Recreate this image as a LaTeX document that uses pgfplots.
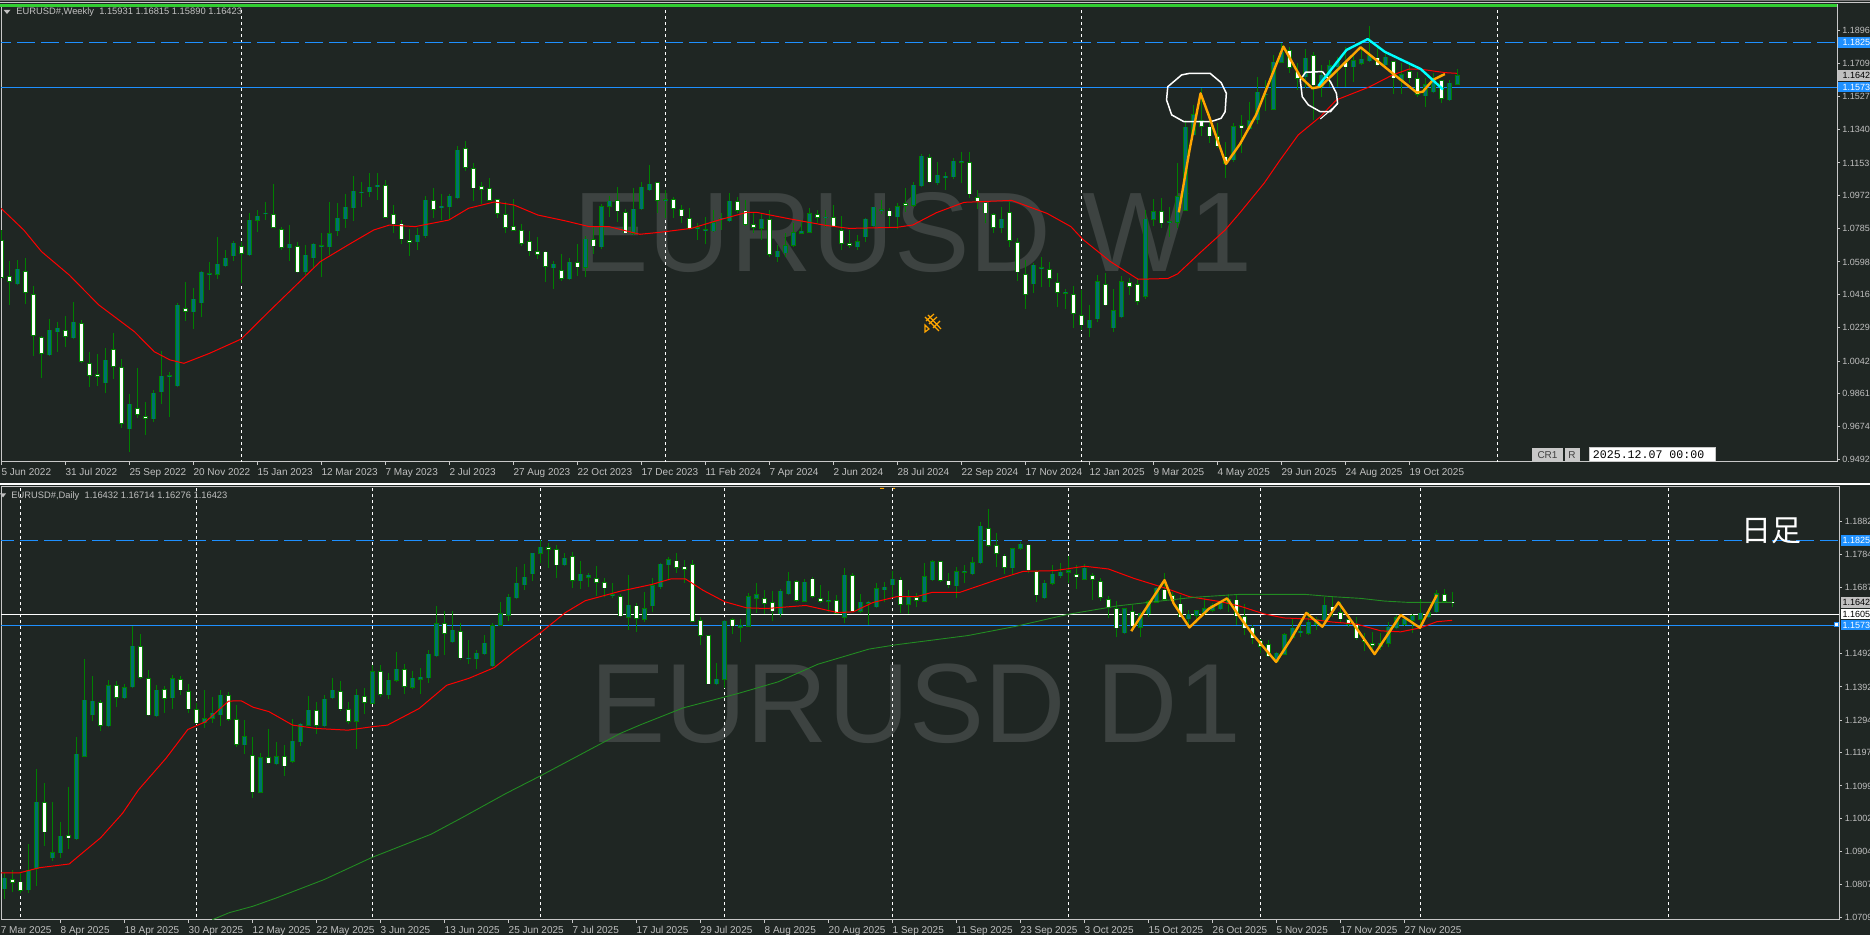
\documentclass[border=0pt]{standalone}
\usepackage{fontspec}
\setmainfont{Liberation Sans}
\newfontfamily\cjk{Noto Sans CJK JP}
\newfontfamily\monof{Liberation Mono}
\usepackage{pgfplots}
\usepackage{pgfplotstable}
\pgfplotsset{compat=1.18}
\definecolor{bg}{HTML}{1F2623}
\definecolor{wick}{HTML}{008000}
\definecolor{teal2}{HTML}{007070}
\definecolor{frame}{HTML}{C8C8C8}
\definecolor{tickc}{HTML}{C0C0C0}
\definecolor{wm}{HTML}{3D4341}
\definecolor{dblue}{HTML}{1E90FF}
\definecolor{lime2}{HTML}{32CD32}
\definecolor{orange2}{HTML}{FFA500}
\definecolor{ma200}{HTML}{228B22}
\definecolor{cy}{HTML}{00FFFF}
\definecolor{tagg}{HTML}{C0C0C0}

\pgfplotstableread{
i o h l c
0 1.0717 1.0777 1.0512 1.0512
1 1.0516 1.0604 1.0357 1.0490
2 1.0476 1.0609 1.0469 1.0557
3 1.0544 1.0619 1.0362 1.0428
4 1.0415 1.0463 1.0071 1.0187
5 1.0174 1.0183 0.9950 1.0086
6 1.0079 1.0278 1.0075 1.0215
7 1.0207 1.0262 1.0094 1.0226
8 1.0213 1.0295 1.0120 1.0181
9 1.0174 1.0374 1.0170 1.0260
10 1.0252 1.0273 1.0034 1.0041
11 1.0028 1.0094 0.9899 0.9963
12 0.9966 1.0082 0.9905 0.9957
13 0.9922 1.0116 0.9866 1.0047
14 1.0107 1.0198 0.9942 1.0013
15 1.0006 1.0053 0.9668 0.9694
16 0.9664 0.9857 0.9533 0.9800
17 0.9776 1.0002 0.9725 0.9744
18 0.9731 0.9811 0.9628 0.9722
19 0.9720 0.9881 0.9703 0.9862
20 0.9871 1.0101 0.9802 0.9957
21 0.9957 0.9979 0.9731 0.9960
22 0.9905 1.0366 0.9896 1.0355
23 1.0337 1.0484 1.0267 1.0322
24 1.0320 1.0450 1.0222 1.0389
25 1.0370 1.0547 1.0290 1.0540
26 1.0531 1.0598 1.0443 1.0533
27 1.0529 1.0738 1.0504 1.0585
28 1.0578 1.0665 1.0572 1.0619
29 1.0633 1.0715 1.0603 1.0702
30 1.0684 1.0712 1.0482 1.0646
31 1.0639 1.0871 1.0635 1.0831
32 1.0831 1.0889 1.0766 1.0854
33 1.0870 1.0934 1.0835 1.0871
34 1.0863 1.1035 1.0788 1.0792
35 1.0779 1.0796 1.0665 1.0680
36 1.0678 1.0805 1.0605 1.0697
37 1.0684 1.0708 1.0538 1.0544
38 1.0542 1.0693 1.0525 1.0635
39 1.0622 1.0703 1.0566 1.0697
40 1.0689 1.0758 1.0516 1.0690
41 1.0684 1.0934 1.0637 1.0757
42 1.0773 1.0926 1.0745 1.0842
43 1.0841 1.0977 1.0788 1.0904
44 1.0902 1.1080 1.0829 1.0994
45 1.0988 1.1048 1.0908 1.0989
46 1.0992 1.1097 1.0964 1.1016
47 1.1020 1.1097 1.0945 1.1027
48 1.1026 1.1056 1.0845 1.0848
49 1.0863 1.0917 1.0758 1.0811
50 1.0809 1.0833 1.0701 1.0727
51 1.0717 1.0783 1.0633 1.0708
52 1.0712 1.0790 1.0665 1.0747
53 1.0745 1.0970 1.0733 1.0943
54 1.0941 1.1013 1.0842 1.0893
55 1.0902 1.0979 1.0833 1.0910
56 1.0908 1.0977 1.0839 1.0966
57 1.0958 1.1248 1.0953 1.1224
58 1.1233 1.1276 1.1108 1.1130
59 1.1119 1.1151 1.0940 1.1013
60 1.1020 1.1046 1.0923 1.1005
61 1.1009 1.1069 1.0938 1.0943
62 1.0945 1.0953 1.0845 1.0870
63 1.0863 1.0936 1.0762 1.0792
64 1.0796 1.0949 1.0771 1.0775
65 1.0773 1.0811 1.0688 1.0703
66 1.0712 1.0770 1.0633 1.0660
67 1.0656 1.0736 1.0615 1.0641
68 1.0651 1.0662 1.0488 1.0574
69 1.0566 1.0603 1.0449 1.0585
70 1.0549 1.0641 1.0493 1.0506
71 1.0504 1.0619 1.0503 1.0596
72 1.0594 1.0697 1.0520 1.0570
73 1.0568 1.0744 1.0516 1.0725
74 1.0721 1.0792 1.0643 1.0688
75 1.0684 1.0921 1.0669 1.0908
76 1.0910 1.0968 1.0852 1.0938
77 1.0940 1.1016 1.0824 1.0884
78 1.0874 1.0897 1.0758 1.0762
79 1.0758 1.1011 1.0750 1.0893
80 1.0895 1.1048 1.0893 1.1016
81 1.1003 1.1142 1.1001 1.1033
82 1.1042 1.1048 1.0870 1.0943
83 1.0940 1.1001 1.0843 1.0947
84 1.0945 1.0964 1.0843 1.0900
85 1.0889 1.0917 1.0815 1.0856
86 1.0841 1.0899 1.0777 1.0788
87 1.0783 1.0815 1.0721 1.0790
88 1.0775 1.0852 1.0697 1.0777
89 1.0773 1.0889 1.0764 1.0818
90 1.0842 1.0870 1.0777 1.0843
91 1.0830 1.0983 1.0824 1.0938
92 1.0936 1.0964 1.0870 1.0887
93 1.0883 1.0945 1.0801 1.0809
94 1.0805 1.0870 1.0758 1.0794
95 1.0786 1.0870 1.0721 1.0837
96 1.0833 1.0889 1.0628 1.0641
97 1.0626 1.0693 1.0600 1.0658
98 1.0650 1.0758 1.0628 1.0689
99 1.0691 1.0815 1.0684 1.0762
100 1.0758 1.0833 1.0758 1.0770
101 1.0766 1.0899 1.0762 1.0868
102 1.0861 1.0889 1.0815 1.0850
103 1.0848 1.0889 1.0796 1.0849
104 1.0845 1.0917 1.0796 1.0801
105 1.0773 1.0856 1.0665 1.0703
106 1.0701 1.0777 1.0674 1.0693
107 1.0684 1.0749 1.0665 1.0712
108 1.0740 1.0843 1.0712 1.0837
109 1.0801 1.0908 1.0796 1.0904
110 1.0888 1.0945 1.0865 1.0889
111 1.0883 1.0899 1.0796 1.0856
112 1.0852 1.0927 1.0781 1.0908
113 1.0925 1.1011 1.0880 1.0915
114 1.0915 1.1048 1.0908 1.1027
115 1.1026 1.1203 1.1020 1.1190
116 1.1182 1.1203 1.1042 1.1048
117 1.1042 1.1156 1.1027 1.1083
118 1.1070 1.1102 1.1001 1.1078
119 1.1076 1.1179 1.1063 1.1162
120 1.1160 1.1212 1.1042 1.1161
121 1.1154 1.1212 1.0955 1.0979
122 1.0957 1.1001 1.0895 1.0940
123 1.0928 1.0936 1.0815 1.0873
124 1.0863 1.0870 1.0762 1.0792
125 1.0790 1.0904 1.0758 1.0837
126 1.0874 1.0936 1.0684 1.0721
127 1.0706 1.0730 1.0493 1.0542
128 1.0527 1.0609 1.0333 1.0417
129 1.0476 1.0594 1.0426 1.0579
130 1.0564 1.0628 1.0460 1.0565
131 1.0555 1.0600 1.0456 1.0506
132 1.0482 1.0534 1.0344 1.0428
133 1.0426 1.0445 1.0333 1.0427
134 1.0415 1.0463 1.0226 1.0310
135 1.0297 1.0441 1.0217 1.0245
136 1.0230 1.0357 1.0176 1.0271
137 1.0281 1.0525 1.0264 1.0488
138 1.0471 1.0534 1.0351 1.0357
139 1.0230 1.0445 1.0207 1.0325
140 1.0291 1.0520 1.0282 1.0488
141 1.0480 1.0507 1.0413 1.0463
142 1.0471 1.0507 1.0357 1.0377
143 1.0406 1.0889 1.0389 1.0837
144 1.0837 1.0949 1.0799 1.0878
145 1.0880 1.0955 1.0786 1.0817
146 1.0822 1.0908 1.0736 1.0824
147 1.0820 1.1151 1.0786 1.0964
148 1.0887 1.1394 1.0885 1.1353
149 1.1310 1.1478 1.1310 1.1422
150 1.1390 1.1571 1.1306 1.1360
151 1.1354 1.1431 1.1263 1.1306
152 1.1300 1.1375 1.1235 1.1248
153 1.1185 1.1272 1.1067 1.1151
154 1.1170 1.1375 1.1160 1.1356
155 1.1360 1.1421 1.1211 1.1351
156 1.1345 1.1496 1.1337 1.1390
157 1.1394 1.1633 1.1371 1.1549
158 1.1537 1.1618 1.1444 1.1538
159 1.1455 1.1758 1.1450 1.1717
160 1.1717 1.1827 1.1711 1.1773
161 1.1782 1.1805 1.1655 1.1689
162 1.1661 1.1711 1.1562 1.1627
163 1.1636 1.1791 1.1571 1.1739
164 1.1752 1.1773 1.1394 1.1590
165 1.1584 1.1702 1.1524 1.1644
166 1.1640 1.1730 1.1577 1.1698
167 1.1692 1.1748 1.1577 1.1720
168 1.1715 1.1805 1.1580 1.1692
169 1.1692 1.1758 1.1608 1.1724
170 1.1711 1.1805 1.1702 1.1733
171 1.1726 1.1920 1.1720 1.1752
172 1.1739 1.1795 1.1696 1.1702
173 1.1702 1.1767 1.1692 1.1745
174 1.1721 1.1726 1.1539 1.1631
175 1.1614 1.1711 1.1539 1.1646
176 1.1664 1.1711 1.1599 1.1631
177 1.1625 1.1664 1.1524 1.1539
178 1.1530 1.1627 1.1468 1.1590
179 1.1552 1.1659 1.1543 1.1618
180 1.1612 1.1618 1.1491 1.1515
181 1.1507 1.1618 1.1500 1.1599
182 1.15931 1.16815 1.15890 1.16423
}\wk

\pgfplotstableread{
i o h l c
0 1.0795 1.0841 1.0763 1.0826
1 1.0822 1.0851 1.0784 1.0814
2 1.0814 1.0843 1.0782 1.0790
3 1.0792 1.0927 1.0782 1.0848
4 1.0854 1.1149 1.0803 1.1050
5 1.1049 1.1107 1.0922 1.0964
6 1.0886 1.1050 1.0877 1.0902
7 1.0901 1.0992 1.0886 1.0950
8 1.0952 1.1096 1.0912 1.0945
9 1.0943 1.1244 1.0942 1.1192
10 1.1187 1.1474 1.1185 1.1352
11 1.1310 1.1424 1.1292 1.1349
12 1.1345 1.1353 1.1262 1.1278
13 1.1277 1.1412 1.1276 1.1396
14 1.1395 1.1409 1.1333 1.1361
15 1.1360 1.1400 1.1355 1.1390
16 1.1392 1.1572 1.1390 1.1512
17 1.1511 1.1549 1.1416 1.1420
18 1.1416 1.1442 1.1307 1.1310
19 1.1307 1.1397 1.1306 1.1382
20 1.1384 1.1396 1.1316 1.1359
21 1.1360 1.1427 1.1326 1.1416
22 1.1413 1.1424 1.1367 1.1384
23 1.1377 1.1400 1.1316 1.1328
24 1.1324 1.1345 1.1283 1.1286
25 1.1286 1.1382 1.1269 1.1298
26 1.1300 1.1363 1.1285 1.1314
27 1.1310 1.1382 1.1276 1.1367
28 1.1366 1.1378 1.1292 1.1296
29 1.1295 1.1338 1.1213 1.1222
30 1.1221 1.1294 1.1193 1.1245
31 1.1188 1.1245 1.1063 1.1082
32 1.1080 1.1197 1.1078 1.1183
33 1.1182 1.1267 1.1164 1.1167
34 1.1164 1.1229 1.1163 1.1186
35 1.1185 1.1220 1.1129 1.1159
36 1.1172 1.1296 1.1167 1.1231
37 1.1230 1.1286 1.1218 1.1281
38 1.1279 1.1365 1.1277 1.1323
39 1.1322 1.1348 1.1254 1.1279
40 1.1277 1.1368 1.1276 1.1355
41 1.1360 1.1417 1.1358 1.1382
42 1.1377 1.1409 1.1322 1.1328
43 1.1324 1.1347 1.1283 1.1290
44 1.1290 1.1385 1.1209 1.1367
45 1.1363 1.1390 1.1312 1.1346
46 1.1343 1.1457 1.1341 1.1437
47 1.1437 1.1457 1.1363 1.1370
48 1.1369 1.1434 1.1357 1.1411
49 1.1411 1.1494 1.1406 1.1444
50 1.1443 1.1459 1.1372 1.1394
51 1.1391 1.1439 1.1387 1.1417
52 1.1414 1.1447 1.1372 1.1420
53 1.1419 1.1501 1.1404 1.1488
54 1.1484 1.1631 1.1481 1.1579
55 1.1579 1.1618 1.1486 1.1551
56 1.1526 1.1616 1.1521 1.1559
57 1.1555 1.1580 1.1473 1.1479
58 1.1476 1.1530 1.1459 1.1477
59 1.1476 1.1501 1.1446 1.1491
60 1.1490 1.1545 1.1486 1.1521
61 1.1454 1.1580 1.1451 1.1573
62 1.1574 1.1644 1.1572 1.1609
63 1.1604 1.1667 1.1588 1.1657
64 1.1656 1.1746 1.1651 1.1698
65 1.1694 1.1756 1.1678 1.1716
66 1.1727 1.1789 1.1706 1.1787
67 1.1787 1.1826 1.1759 1.1805
68 1.1804 1.1817 1.1743 1.1800
69 1.1798 1.1812 1.1715 1.1754
70 1.1753 1.1787 1.1749 1.1772
71 1.1777 1.1792 1.1685 1.1708
72 1.1706 1.1765 1.1681 1.1725
73 1.1716 1.1728 1.1688 1.1722
74 1.1712 1.1750 1.1661 1.1701
75 1.1700 1.1713 1.1659 1.1686
76 1.1663 1.1698 1.1654 1.1664
77 1.1659 1.1668 1.1600 1.1602
78 1.1598 1.1723 1.1560 1.1633
79 1.1631 1.1641 1.1555 1.1595
80 1.1592 1.1674 1.1585 1.1624
81 1.1632 1.1713 1.1614 1.1692
82 1.1689 1.1759 1.1683 1.1755
83 1.1753 1.1777 1.1710 1.1769
84 1.1764 1.1787 1.1728 1.1746
85 1.1746 1.1767 1.1700 1.1740
86 1.1753 1.1769 1.1585 1.1587
87 1.1588 1.1598 1.1515 1.1545
88 1.1543 1.1545 1.1400 1.1402
89 1.1402 1.1463 1.1400 1.1414
90 1.1414 1.1590 1.1390 1.1586
91 1.1591 1.1595 1.1550 1.1573
92 1.1568 1.1593 1.1526 1.1574
93 1.1572 1.1669 1.1568 1.1659
94 1.1654 1.1700 1.1610 1.1665
95 1.1653 1.1678 1.1608 1.1639
96 1.1641 1.1676 1.1588 1.1617
97 1.1608 1.1683 1.1598 1.1675
98 1.1668 1.1731 1.1664 1.1704
99 1.1703 1.1708 1.1644 1.1649
100 1.1646 1.1711 1.1644 1.1701
101 1.1710 1.1718 1.1655 1.1660
102 1.1653 1.1693 1.1639 1.1646
103 1.1647 1.1676 1.1614 1.1648
104 1.1647 1.1664 1.1607 1.1610
105 1.1598 1.1743 1.1580 1.1722
106 1.1721 1.1728 1.1615 1.1617
107 1.1616 1.1666 1.1612 1.1642
108 1.1641 1.1647 1.1574 1.1642
109 1.1629 1.1698 1.1626 1.1683
110 1.1679 1.1703 1.1642 1.1687
111 1.1694 1.1736 1.1659 1.1710
112 1.1708 1.1718 1.1610 1.1637
113 1.1636 1.1680 1.1608 1.1658
114 1.1656 1.1671 1.1627 1.1649
115 1.1645 1.1759 1.1643 1.1718
116 1.1709 1.1767 1.1705 1.1763
117 1.1762 1.1765 1.1703 1.1708
118 1.1705 1.1728 1.1686 1.1695
119 1.1691 1.1746 1.1656 1.1733
120 1.1733 1.1752 1.1698 1.1734
121 1.1727 1.1775 1.1724 1.1759
122 1.1759 1.1880 1.1755 1.1867
123 1.1860 1.1918 1.1807 1.1811
124 1.1810 1.1846 1.1747 1.1788
125 1.1779 1.1785 1.1725 1.1746
126 1.1745 1.1803 1.1723 1.1801
127 1.1802 1.1821 1.1797 1.1814
128 1.1811 1.1816 1.1728 1.1738
129 1.1733 1.1738 1.1644 1.1664
130 1.1656 1.1708 1.1652 1.1698
131 1.1698 1.1752 1.1693 1.1725
132 1.1721 1.1759 1.1713 1.1731
133 1.1731 1.1779 1.1698 1.1736
134 1.1724 1.1752 1.1681 1.1718
135 1.1711 1.1757 1.1708 1.1743
136 1.1721 1.1730 1.1649 1.1711
137 1.1703 1.1713 1.1647 1.1657
138 1.1650 1.1661 1.1597 1.1627
139 1.1623 1.1647 1.1540 1.1567
140 1.1552 1.1626 1.1550 1.1624
141 1.1615 1.1635 1.1558 1.1573
142 1.1568 1.1615 1.1540 1.1608
143 1.1608 1.1649 1.1600 1.1644
144 1.1642 1.1688 1.1639 1.1684
145 1.1678 1.1728 1.1647 1.1651
146 1.1661 1.1674 1.1644 1.1647
147 1.1637 1.1664 1.1598 1.1600
148 1.1594 1.1621 1.1570 1.1607
149 1.1604 1.1621 1.1580 1.1617
150 1.1609 1.1654 1.1604 1.1624
151 1.1619 1.1639 1.1614 1.1634
152 1.1624 1.1644 1.1619 1.1639
153 1.1639 1.1668 1.1614 1.1651
154 1.1649 1.1664 1.1575 1.1602
155 1.1600 1.1637 1.1545 1.1567
156 1.1566 1.1575 1.1518 1.1538
157 1.1527 1.1535 1.1491 1.1513
158 1.1516 1.1532 1.1481 1.1484
159 1.1466 1.1496 1.1464 1.1491
160 1.1488 1.1552 1.1486 1.1547
161 1.1538 1.1592 1.1535 1.1565
162 1.1552 1.1595 1.1540 1.1557
163 1.1551 1.1615 1.1545 1.1583
164 1.1578 1.1600 1.1560 1.1592
165 1.1590 1.1659 1.1588 1.1633
166 1.1628 1.1657 1.1600 1.1617
167 1.1611 1.1644 1.1585 1.1593
168 1.1590 1.1600 1.1570 1.1578
169 1.1574 1.1600 1.1532 1.1537
170 1.1530 1.1552 1.1499 1.1527
171 1.1519 1.1555 1.1493 1.1515
172 1.1511 1.1552 1.1501 1.1521
173 1.1521 1.1585 1.1511 1.1568
174 1.1567 1.1605 1.1565 1.1596
175 1.1577 1.1601 1.1573 1.1592
176 1.1590 1.1608 1.1553 1.1602
177 1.1592 1.1651 1.1562 1.1610
178 1.1600 1.1625 1.1598 1.1612
179 1.1615 1.1678 1.1613 1.1668
180 1.1664 1.1681 1.1642 1.1646
181 1.16432 1.16714 1.16276 1.16423
}\dy

\newcommand{\candles}[2]{%
\addplot[draw=none,mark=none,forget plot,error bars/.cd,y dir=both,y explicit,error mark=none,error bar style={draw=wick,line width=.5pt}]
  table[x=i,y=o,y error plus expr=\thisrow{h}-\thisrow{o},y error minus expr=\thisrow{o}-\thisrow{l}] {#1};
\addplot[draw=none,mark=none,forget plot,error bars/.cd,y dir=both,y explicit,error mark=none,error bar style={draw=wick,line width=2.5pt}]
  table[x=i,y expr={0.5*(\thisrow{o}+\thisrow{c})},y error plus expr={abs(\thisrow{c}-\thisrow{o})/2+#2},y error minus expr={abs(\thisrow{c}-\thisrow{o})/2+#2}] {#1};
\addplot[draw=none,mark=none,forget plot,error bars/.cd,y dir=both,y explicit,error mark=none,error bar style={draw=teal2,line width=1.5pt}]
  table[x=i,y=o,y error plus expr={max(\thisrow{c}-\thisrow{o},0)},y error minus expr={0}] {#1};
\addplot[draw=none,mark=none,forget plot,error bars/.cd,y dir=both,y explicit,error mark=none,error bar style={draw=white,line width=1.5pt}]
  table[x=i,y=o,y error plus expr={0},y error minus expr={max(\thisrow{o}-\thisrow{c},0)}] {#1};
}
\newcommand{\fs}{\fontsize{5}{6}\selectfont}
\newcommand{\fy}{\fontsize{4.5}{5.5}\selectfont}
\newcommand{\fh}{\fontsize{4.67}{5.6}\selectfont}
\newcommand{\ptag}[6]{\fill[#3] (#1,#2-5.2) rectangle (1870,#2+5.2);
  \node[anchor=west,inner sep=0pt,text=#4,font=\fy] at (#5,#2) {#6};}

\pgfplotsset{panel/.style={
  scale only axis,clip=true,
  axis line style={draw=frame,line width=.5pt},
  tick style={draw=frame,line width=.5pt},
  major tick length=1.5pt,tick align=outside,
  xtick pos=lower,ytick pos=right,yticklabel pos=right,
  xticklabel style={anchor=north west,inner sep=0pt,font=\fs,text=tickc,text height=3.7pt,text depth=1pt,yshift=-1.3pt},
  yticklabel style={anchor=west,inner sep=0pt,font=\fy,text=tickc,xshift=1pt},
  /pgf/number format/assume math mode=true,
}}

\begin{document}
\begin{tikzpicture}
\useasboundingbox (0,0) rectangle (935pt,467.5pt);
\clip (0,0) rectangle (935pt,467.5pt);
\fill[bg] (0,0) rectangle (935pt,467.5pt);
\begin{scope}[x=.5pt,y=-.5pt,yshift=467.5pt]
\node[anchor=base west,inner sep=0pt,text=wm,font=\fontsize{56.6}{60}\selectfont] at (573,272) {EURUSD W1};
\node[anchor=base west,inner sep=0pt,text=wm,font=\fontsize{56.3}{60}\selectfont] at (590,743) {EURUSD D1};
\end{scope}

% ---------- weekly panel
\begin{axis}[panel,at={(0.5pt,236.5pt)},anchor=south west,width=918pt,height=228.5pt,
  xmin=-0.025,xmax=229.475,ymin=0.9477,ymax=1.2038,
  xtick={0,8,16,24,32,40,48,56,64,72,80,88,96,104,112,120,128,136,144,152,160,168,176},
  xticklabels={5 Jun 2022,31 Jul 2022,25 Sep 2022,20 Nov 2022,15 Jan 2023,12 Mar 2023,7 May 2023,2 Jul 2023,27 Aug 2023,22 Oct 2023,17 Dec 2023,11 Feb 2024,7 Apr 2024,2 Jun 2024,28 Jul 2024,22 Sep 2024,17 Nov 2024,12 Jan 2025,9 Mar 2025,4 May 2025,29 Jun 2025,24 Aug 2025,19 Oct 2025},
  ytick={1.1896,1.1709,1.1527,1.1340,1.1153,1.0972,1.0785,1.0598,1.0416,1.0229,1.0042,0.9861,0.9674,0.9492},
  yticklabels={1.1896,1.1709,1.1527,1.1340,1.1153,1.0972,1.0785,1.0598,1.0416,1.0229,1.0042,0.9861,0.9674,0.9492},
]
\pgfplotsinvokeforeach{30,83,135,187}{\addplot[forget plot,white,line width=.5pt,dash pattern=on 1.5pt off 1.5pt] coordinates {(#1,0.9)(#1,1.3)};}
\addplot[forget plot,dblue,line width=.5pt,dash pattern=on 9pt off 3pt] coordinates {(-1,1.1825)(230,1.1825)};
\addplot[forget plot,dblue,line width=.5pt] coordinates {(-1,1.1573)(230,1.1573)};
\candles{\wk}{0.0003}
\addplot[forget plot,red,line width=.5pt] coordinates {(0,1.0898)(2.82,1.0777)(5.04,1.0656)(8.5,1.0525)(12.2,1.0357)(16.66,1.0207)(19.13,1.0095)(21.1,1.0049)(22.84,1.0030)(26.05,1.0086)(30,1.0166)(33.47,1.0320)(36.68,1.0460)(39.89,1.0600)(43.35,1.0693)(46.56,1.0777)(48.54,1.0805)(51.75,1.0796)(55.96,1.0833)(58.43,1.0899)(61.64,1.0934)(64.11,1.0917)(67.08,1.0861)(70.54,1.0828)(73.5,1.0796)(75.98,1.0796)(79.83,1.0753)(82.3,1.0764)(86.26,1.0786)(89.72,1.0833)(93.18,1.0876)(94.41,1.0876)(98.61,1.0839)(103.06,1.0803)(106.03,1.0786)(111.96,1.0792)(113.94,1.0805)(116.9,1.0874)(120.36,1.0932)(126.3,1.0943)(130.74,1.0870)(133.71,1.0796)(135.19,1.0725)(138.65,1.0600)(142.11,1.0501)(145.82,1.0505)(147.05,1.0531)(150.02,1.0656)(152.99,1.0777)(154.85,1.0874)(157.86,1.1039)(159.87,1.1170)(162.13,1.1310)(164.89,1.1412)(166.9,1.1506)(170.92,1.1577)(173.93,1.1646)(175.94,1.1678)(177.45,1.1678)(180.46,1.1659)(181.97,1.1655)};
\addplot[forget plot,white,line width=.75pt] coordinates {(147.8,1.1385)(146.31,1.1422)(145.67,1.1506)(145.82,1.1580)(147.55,1.1646)(148.54,1.1655)(151.11,1.1655)(152.49,1.1603)(153.14,1.1543)(152.99,1.1440)(152.49,1.1403)(151.26,1.1385)(147.8,1.1385)};
\addplot[forget plot,white,line width=.75pt] coordinates {(165.15,1.1665)(163.04,1.1661)(162.38,1.1618)(162.63,1.1524)(163.39,1.1478)(164.89,1.1440)(166.15,1.1440)(167.05,1.1487)(166.9,1.1543)(166.15,1.1608)(165.15,1.1665)};
\addplot[forget plot,white,line width=.5pt] coordinates {(167.05,1.1483)(164.89,1.1399)};
\addplot[forget plot,orange2,line width=1.2pt,line join=round] coordinates {(147.2,1.0876)(148.54,1.1225)(149.92,1.1543)(151,1.1412)(153.09,1.1147)(154.85,1.1259)(156.86,1.1422)(160.27,1.1805)(162.38,1.1636)(163.89,1.1571)(164.89,1.1580)(166.4,1.1646)(169.92,1.1801)(173.93,1.1655)(176.95,1.1547)(177.7,1.1552)(178.96,1.1618)(180.46,1.1651)};
\addplot[forget plot,cy,line width=1.2pt,line join=round] coordinates {(164.64,1.1584)(168.16,1.1786)(170.82,1.1847)(172.93,1.1776)(177.45,1.1679)(180.21,1.1565)};
\end{axis}

% ---------- daily panel
\begin{axis}[panel,at={(0.5pt,7.5pt)},anchor=south west,width=919pt,height=216.5pt,
  xmin=-0.4125,xmax=229.34,ymin=1.07023,ymax=1.19836,
  xtick={7,15,23,31,39,47,55,63,71,79,87,95,103,111,119,127,135,143,151,159,167,175},
  xticklabels={8 Apr 2025,18 Apr 2025,30 Apr 2025,12 May 2025,22 May 2025,3 Jun 2025,13 Jun 2025,25 Jun 2025,7 Jul 2025,17 Jul 2025,29 Jul 2025,8 Aug 2025,20 Aug 2025,1 Sep 2025,11 Sep 2025,23 Sep 2025,3 Oct 2025,15 Oct 2025,26 Oct 2025,5 Nov 2025,17 Nov 2025,27 Nov 2025},
  ytick={1.1882,1.1784,1.1687,1.1492,1.1392,1.1294,1.1197,1.1099,1.1002,1.0904,1.0807,1.0709},
  yticklabels={1.1882,1.1784,1.1687,1.1492,1.1392,1.1294,1.1197,1.1099,1.1002,1.0904,1.0807,1.0709},
  yticklabel style={xshift=.2pt},
]
\pgfplotsinvokeforeach{2,24,46,67,90,111,133,157,177,208}{\addplot[forget plot,white,line width=.5pt,dash pattern=on 1.5pt off 1.5pt] coordinates {(#1,1.0)(#1,1.3)};}
\addplot[forget plot,dblue,line width=.5pt,dash pattern=on 9pt off 3pt] coordinates {(-1,1.1825)(230,1.1825)};
\addplot[forget plot,dblue,line width=.5pt] coordinates {(-1,1.1573)(230,1.1573)};
\addplot[forget plot,white,line width=.5pt] coordinates {(-1,1.1605)(230,1.1605)};
\candles{\dy}{0.00015}
\addplot[forget plot,red,line width=.5pt] coordinates {(-0.54,1.0842)(1.93,1.0842)(4.4,1.0857)(8.11,1.0868)(12.06,1.0946)(14.78,1.1018)(16.76,1.1087)(20.22,1.1181)(22.94,1.1266)(25.16,1.1289)(28.03,1.1350)(29.61,1.1351)(31.09,1.1332)(33.07,1.1319)(36.04,1.1279)(39,1.1269)(42.96,1.1264)(45.92,1.1274)(47.9,1.1279)(51.85,1.1328)(55.31,1.1397)(58.03,1.1417)(61.24,1.1449)(63.72,1.1496)(67.18,1.1555)(70.14,1.1612)(72.61,1.1647)(76.96,1.1675)(80.91,1.1695)(83.39,1.1712)(85.12,1.1712)(87.34,1.1678)(90.06,1.1644)(92.78,1.1626)(95.25,1.1624)(100.19,1.1633)(104.15,1.1612)(106.12,1.1614)(108.6,1.1642)(111.56,1.1659)(114.03,1.1659)(116.01,1.1672)(119.47,1.1672)(124.41,1.1712)(127.38,1.1734)(131.33,1.1736)(135.04,1.1749)(138.01,1.1741)(141.22,1.1713)(145.17,1.1684)(148.14,1.1659)(152.1,1.1644)(154.46,1.1631)(157.48,1.1608)(159.99,1.1596)(163,1.1593)(166.01,1.1584)(169.03,1.1578)(172.04,1.1558)(174.55,1.1555)(177.06,1.1567)(179.07,1.1585)(180.98,1.1589)};
\addplot[forget plot,ma200,line width=.45pt] coordinates {(26,1.0703)(28.13,1.0724)(31.09,1.0743)(34.06,1.0768)(39.99,1.0822)(45.92,1.0887)(53.34,1.0956)(57.29,1.1006)(62.73,1.1077)(67.03,1.1129)(76.96,1.1254)(79.43,1.1279)(84.87,1.1330)(91.79,1.1373)(96.73,1.1407)(101.68,1.1459)(108.1,1.1504)(111.56,1.1517)(120.46,1.1544)(126.39,1.1571)(133.01,1.1607)(139.25,1.1632)(143.69,1.1644)(148.64,1.1657)(154.46,1.1666)(162.5,1.1666)(166.01,1.1659)(169.53,1.1654)(172.54,1.1646)(175.56,1.1642)(180.98,1.1642)};
\addplot[forget plot,orange2,line width=1.2pt,line join=round] coordinates {(140.87,1.1557)(142.7,1.1624)(145.03,1.1708)(146.17,1.1639)(148.14,1.1568)(150.61,1.1624)(152.84,1.1654)(154.46,1.1598)(155.97,1.1550)(158.98,1.1466)(160.74,1.1530)(162.75,1.1611)(164.76,1.1570)(166.77,1.1642)(171.29,1.1489)(174.55,1.1605)(176.96,1.1567)(179.07,1.1664)};
\end{axis}

% ---------- window furniture in pixel coordinates
\begin{scope}[x=.5pt,y=-.5pt,yshift=467.5pt]
\fill[frame!60!black] (0,0) rectangle (1870,1);
\fill[frame] (0,2.4) rectangle (1870,3.4);
\fill[lime2] (0,4) rectangle (1837,7);
\fill[white] (0,483) rectangle (1870,485);
% header lines
\fill[tickc] (3.5,9.8) -- (10.5,9.8) -- (7,14) -- cycle;
\node[anchor=west,inner sep=0pt,text=tickc,font=\fh] at (16,12) {EURUSD\#,Weekly\ \ 1.15931 1.16815 1.15890 1.16423};
\fill[tickc] (0,493.5) -- (6,493.5) -- (3,497.5) -- cycle;
\node[anchor=west,inner sep=0pt,text=tickc,font=\fh] at (11,495.7) {EURUSD\#,Daily\ \ 1.16432 1.16714 1.16276 1.16423};
\node[anchor=north west,inner sep=0pt,text=tickc,font=\fs,text height=3.7pt,text depth=1pt] at (0.5,925.6) {7 Mar 2025};
% price tags, weekly
\ptag{1838}{42.5}{dblue}{white}{1842.2}{1.1825}
\ptag{1838}{75.5}{tagg}{black}{1842.2}{1.1642}
\ptag{1838}{87}{dblue}{white}{1842.2}{1.1573}
% price tags, daily
\ptag{1841}{540.5}{dblue}{white}{1842.2}{1.1825}
\ptag{1841}{602.5}{tagg}{black}{1842.2}{1.1642}
\ptag{1841}{614}{white}{black}{1842.2}{1.1605}
\ptag{1841}{625}{dblue}{white}{1842.2}{1.1573}
\fill[white,draw=dblue,line width=.5pt] (1834,622.5) rectangle (1838.5,627);
% buttons and date box
\fill[frame] (1532,448) rectangle (1563,462);
\fill[frame] (1565,448) rectangle (1579.5,462);
\node[text=black!75,font=\fs,inner sep=0pt] at (1547.5,455) {CR1};
\node[text=black!75,font=\fs,inner sep=0pt] at (1572,455) {R};
\fill[white,draw=frame,line width=.5pt] (1589,448) rectangle (1715,462);
\node[anchor=west,text=black,font=\monof\fontsize{5.8}{7}\selectfont,inner sep=0pt] at (1592.5,455) {2025.12.07 00:00};
% text on the daily panel
\node[anchor=base west,inner sep=0pt,text=white,font=\cjk\fontsize{15}{18}\selectfont] at (1741,542) {日足};
% pencil cursor
\draw[orange2,line width=.6pt] (925,317) -- (939,331) (928,315) -- (941,329) (926,321) -- (934,314) (929,324) -- (937,317) (933,328) -- (940,321) (925,332) -- (925,325) -- (929,329) -- cycle;
\fill[orange2] (880,488) rectangle (884,489) (893,488) rectangle (895,489);
\end{scope}
\end{tikzpicture}
\end{document}
